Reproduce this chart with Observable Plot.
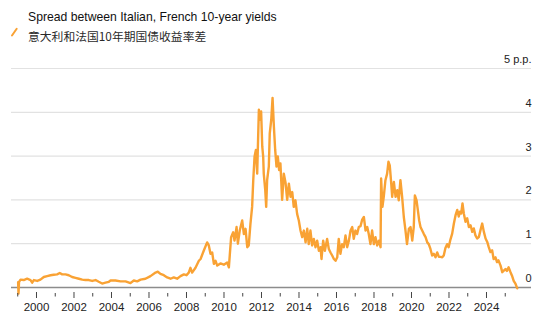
<!DOCTYPE html>
<html>
<head>
<meta charset="utf-8">
<script src="https://cdn.jsdelivr.net/npm/d3@7"></script>
<script src="https://cdn.jsdelivr.net/npm/@observablehq/plot@0.6"></script>
<style>
  body { margin: 0; background: #fff; width: 550px; height: 322px; overflow: hidden; font-family: "Liberation Sans", Arial, sans-serif; }
  #head { position: relative; height: 50px; }
  #swatch { position: absolute; left: 0; top: 0; }
  #title { position: absolute; left: 28px; top: 9.5px; font-size: 12.2px; line-height: 14px; color: #111; white-space: nowrap; }
  #subtitle { position: absolute; left: 28px; top: 28.5px; font-size: 11.8px; line-height: 14px; color: #2a2a2a; white-space: nowrap; font-family: "Noto Sans CJK SC", "Liberation Sans", sans-serif; }
</style>
</head>
<body>
<div id="head">
  <svg id="swatch" width="30" height="50"><line x1="12" y1="35.5" x2="16.7" y2="28.7" stroke="#f9a234" stroke-width="2" stroke-linecap="round"/></svg>
  <div id="title">Spread between Italian, French 10-year yields</div>
  <div id="subtitle">意大利和法国10年期国债收益率差</div>
</div>
<div id="chart"></div>
<script>
const dates = [
1999.02,1999.04,1999.07,1999.15,1999.32,1999.50,1999.68,1999.77,1999.86,
2000.04,2000.21,2000.39,2000.57,2000.75,2000.92,2001.10,2001.24,2001.37,2001.55,2001.72,2001.90,
2002.08,2002.26,2002.44,2002.61,2002.79,2002.97,2003.15,2003.32,2003.50,2003.68,2003.86,2003.95,
2004.21,2004.48,2004.75,2005.01,2005.19,2005.37,2005.55,2005.81,2006.08,2006.35,2006.47,2006.61,
2006.79,2006.97,2007.15,2007.32,2007.50,2007.68,2007.86,2008.00,2008.12,2008.21,2008.30,2008.48,
2008.66,2008.75,2008.92,2009.10,2009.19,2009.28,2009.37,2009.46,2009.55,2009.64,2009.81,2009.99,
2010.17,2010.26,2010.38,2010.49,2010.56,2010.67,2010.74,2010.84,2010.97,2011.06,2011.15,2011.24,
2011.32,2011.41,2011.50,2011.56,2011.63,2011.70,2011.77,2011.80,2011.86,2011.91,2011.98,2012.04,
2012.09,2012.12,2012.20,2012.25,2012.30,2012.39,2012.44,2012.52,2012.59,2012.66,2012.73,2012.80,
2012.87,2012.94,2013.01,2013.10,2013.19,2013.28,2013.37,2013.46,2013.55,2013.64,2013.72,2013.81,
2013.90,2013.99,2014.08,2014.17,2014.26,2014.35,2014.44,2014.52,2014.61,2014.70,2014.79,2014.88,
2014.97,2015.06,2015.15,2015.20,2015.29,2015.38,2015.50,2015.59,2015.68,2015.77,2015.86,2015.95,
2016.04,2016.12,2016.21,2016.30,2016.39,2016.48,2016.57,2016.66,2016.75,2016.84,2016.92,2017.01,
2017.10,2017.19,2017.28,2017.37,2017.46,2017.55,2017.64,2017.72,2017.81,2017.90,2017.99,2018.08,
2018.17,2018.26,2018.35,2018.38,2018.45,2018.52,2018.61,2018.70,2018.77,2018.84,2018.92,2018.97,
2019.06,2019.15,2019.24,2019.32,2019.41,2019.50,2019.59,2019.68,2019.76,2019.86,2019.95,2020.04,
2020.12,2020.18,2020.27,2020.34,2020.41,2020.48,2020.57,2020.66,2020.75,2020.84,2020.92,2021.01,
2021.10,2021.19,2021.28,2021.37,2021.46,2021.55,2021.64,2021.72,2021.81,2021.90,2021.98,2022.08,
2022.17,2022.26,2022.35,2022.44,2022.52,2022.58,2022.65,2022.72,2022.79,2022.88,2022.97,2023.06,
2023.15,2023.24,2023.32,2023.41,2023.50,2023.59,2023.68,2023.77,2023.86,2023.95,2024.04,2024.12,
2024.21,2024.30,2024.38,2024.48,2024.56,2024.64,2024.75,2024.84,2024.91,2025.01,2025.09,2025.18,
2025.28,2025.36,2025.45,2025.55,2025.64
];
const spread = [
0.12,-0.14,0.13,0.18,0.17,0.20,0.17,0.11,0.17,
0.15,0.18,0.24,0.26,0.28,0.29,0.30,0.33,0.30,0.30,0.28,0.24,
0.22,0.20,0.18,0.17,0.17,0.15,0.17,0.13,0.09,0.11,0.13,0.16,
0.16,0.14,0.14,0.10,0.16,0.14,0.18,0.20,0.26,0.34,0.36,0.31,
0.28,0.23,0.20,0.23,0.20,0.26,0.30,0.28,0.34,0.45,0.34,0.45,
0.61,0.65,0.84,1.03,0.96,0.77,0.80,0.54,0.61,0.50,0.55,0.52,
0.57,0.46,1.15,1.26,1.07,1.38,1.00,1.30,1.53,1.22,1.34,0.92,
0.96,1.45,1.84,2.45,2.99,3.14,2.60,3.10,4.06,3.83,4.02,3.22,
2.99,2.60,2.22,1.84,2.45,2.76,3.52,3.83,4.33,3.68,3.14,2.76,
2.99,2.68,2.83,2.00,2.60,2.40,2.00,2.37,2.07,2.18,1.84,1.99,
1.68,1.53,1.30,1.15,1.30,1.03,1.34,0.99,1.30,0.96,1.11,0.92,
1.07,0.84,0.92,0.65,1.07,0.84,1.11,0.88,0.80,0.73,0.65,0.61,
0.69,1.11,0.77,0.99,0.92,1.19,0.92,1.07,1.30,1.38,1.11,1.30,
1.22,1.38,1.40,1.55,1.61,1.30,1.38,1.22,0.99,1.30,0.99,1.15,
0.96,1.07,0.92,2.49,1.84,2.07,2.45,2.60,2.87,2.79,2.37,2.07,
2.41,2.07,2.22,1.99,2.45,2.07,1.61,1.30,0.99,1.34,1.38,1.07,
1.38,2.10,1.99,1.76,1.53,1.38,1.30,1.22,1.15,1.03,0.99,0.88,
0.73,0.77,0.69,0.80,0.70,0.70,0.69,0.73,0.90,0.99,0.92,1.10,
1.23,1.46,1.65,1.77,1.62,1.73,1.69,1.92,1.69,1.50,1.58,1.38,
1.42,1.27,1.35,1.19,1.12,1.15,1.31,1.46,1.27,1.12,1.04,0.92,
0.81,0.85,0.65,0.69,0.58,0.62,0.50,0.35,0.38,0.42,0.38,0.46,
0.35,0.27,0.15,0.08,-0.02
];
const gridValues = [1, 2, 3, 4, 5];
const yTickValues = [0, 1, 2, 3, 4, 5];
const yTickLabels = ["0", "1", "2", "3", "4", "5 p.p."];
const majorYears = [2000, 2002, 2004, 2006, 2008, 2010, 2012, 2014, 2016, 2018, 2020, 2022, 2024];
const minorYears = [1999, 2001, 2003, 2005, 2007, 2009, 2011, 2013, 2015, 2017, 2019, 2021, 2023, 2025];

const chart = Plot.plot({
  width: 550,
  height: 272,
  marginLeft: 11,
  marginRight: 19,
  marginTop: 18,
  marginBottom: 35,
  style: { fontFamily: "Liberation Sans, Arial, sans-serif", color: "#222", background: "#fff" },
  x: { domain: [1998.667, 2026.4] },
  y: { domain: [0, 5], axis: null },
  marks: [
    Plot.ruleY(gridValues, { stroke: "#e2e2e2", strokeWidth: 1.2 }),
    Plot.ruleY([0], { stroke: "#8c8c8c", strokeWidth: 1.5 }),
    Plot.text(yTickValues, { y: d => d, text: (d, i) => yTickLabels[i], frameAnchor: "right", textAnchor: "end", dy: -9, fontSize: 11, fill: "#222" }),
    Plot.line(dates, { x: d => d, y: (d, i) => spread[i], stroke: "#f9a234", strokeWidth: 2.4, strokeLinejoin: "round" }),
    Plot.axisX(majorYears, { tickSize: 6, dy: 5, tickPadding: 4, tickFormat: "d", fontSize: 11.5, stroke: "#444", label: null }),
    Plot.axisX(minorYears, { tickSize: 3.5, dy: 6, tickFormat: () => "", stroke: "#444", label: null })
  ]
});
document.getElementById("chart").appendChild(chart);
</script>
</body>
</html>
